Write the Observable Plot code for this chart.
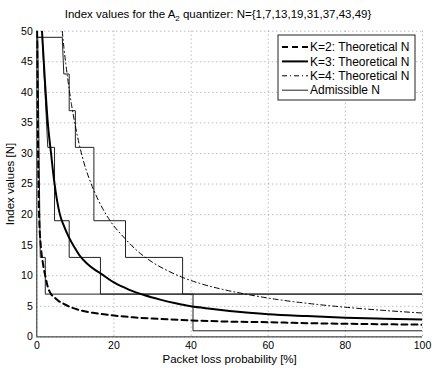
<!DOCTYPE html>
<html>
<head>
<meta charset="utf-8">
<script src="https://cdn.jsdelivr.net/npm/d3@7"></script>
<script src="https://cdn.jsdelivr.net/npm/@observablehq/plot@0.6"></script>
<style>
  html, body { margin: 0; padding: 0; background: white; }
</style>
</head>
<body>
<div id="chart"></div>
<script>
// ---- data ----
const xTicks = [0, 20, 40, 60, 80, 100];
const yTicks = [0, 5, 10, 15, 20, 25, 30, 35, 40, 45, 50];

// K=2 theoretical N
const pK2 = [0.08,0.15,0.25,0.35,0.5,0.7,0.9,1.2,1.5,1.8,2.2,2.8,3.6,4.5,5.6,7,9,11,13,15,20,25,30,40,50,60,70,80,90,100];
const nK2 = [50,44,36,29,22.5,18,16,13.8,12.4,11.2,10,8.3,7.1,6.5,5.9,5.4,4.8,4.4,4.1,3.9,3.5,3.2,3.0,2.7,2.5,2.4,2.25,2.15,2.07,2.0];
// K=3 theoretical N
const pK3 = [1.35,2,2.85,3.7,4.5,5.2,6,7,8.4,10,11,13,15,16.5,20,24,28,32,36,40,45,50,55,60,70,80,90,100];
const nK3 = [50,43,35,30,25.5,22.5,20,18.2,16.2,14.4,13.4,12,11,10.4,8.9,7.7,6.8,6.1,5.5,5.0,4.6,4.25,3.95,3.7,3.4,3.15,2.98,2.85];
// K=4 theoretical N
const pK4 = [6.6,7,8,9,10,11,12.7,14,16,19,23,26,30,34,37.9,42,48,55,62,70,80,90,100];
const nK4 = [50,47.5,42.3,38,34.5,31.5,27.5,25.2,22.3,19,16,14.1,12.2,10.8,9.7,8.8,7.8,6.9,6.15,5.5,4.85,4.33,3.9];

// Admissible N (step functions)
const pS2 = [0,0.25,0.9,2.2,2.2,100];
const nS2 = [49,49,13,13,7,7];
const pS3 = [0,1.4,2.85,4.6,4.6,8.4,8.4,16.5,16.5,40.5,40.5,100];
const nS3 = [49,49,31,31,19,19,13,13,7,7,1,1];
const pS4 = [0,6.6,7.0,8.4,8.4,10,10,14.8,14.8,23,23,37.8,37.8,100];
const nS4 = [49,49,43,43,37,37,31,31,19,19,13,13,7,7];

const legendLabels = ["K=2: Theoretical N", "K=3: Theoretical N", "K=4: Theoretical N", "Admissible N"];
const titleMain = "Index values for the A";
const titleSub = "2";
const titleRest = " quantizer: N={1,7,13,19,31,37,43,49}";
const xLabel = "Packet loss probability [%]";
const yLabel = "Index values [N]";

// ---- build ----
const zip = (ps, ns) => ps.map((p, i) => ({p, n: ns[i]}));
const k2 = zip(pK2, nK2), k3 = zip(pK3, nK3), k4 = zip(pK4, nK4);
const s2 = zip(pS2, nS2), s3 = zip(pS3, nS3), s4 = zip(pS4, nS4);

const FONT = "'Liberation Sans', Arial, Helvetica, sans-serif";

const styles = [
  {stroke: "black", strokeWidth: 2, strokeDasharray: "6,4"},
  {stroke: "black", strokeWidth: 2, strokeDasharray: null},
  {stroke: "black", strokeWidth: 1, strokeDasharray: "5,3,1,3"},
  {stroke: "#222", strokeWidth: 1, strokeDasharray: null}
];

const chart = Plot.plot({
  width: 436,
  height: 368,
  marginLeft: 36.3,
  marginRight: 14,
  marginTop: 30.7,
  marginBottom: 31.6,
  style: {fontFamily: FONT, fontSize: "10.5px", color: "black", background: "white", overflow: "visible"},
  x: {domain: [0, 100], ticks: xTicks, tickSize: 0, tickPadding: 5, label: null},
  y: {domain: [0, 50], ticks: yTicks, tickSize: 0, tickPadding: 4, label: null},
  marks: [
    Plot.gridX(xTicks, {stroke: "#888", strokeOpacity: 1, strokeWidth: 0.8, strokeDasharray: "1,3"}),
    Plot.gridY(yTicks, {stroke: "#888", strokeOpacity: 1, strokeWidth: 0.8, strokeDasharray: "1,3"}),
    Plot.ruleX([0], {stroke: "#222"}),
    Plot.ruleY([0], {stroke: "#222"}),
    Plot.line(s2, {x: "p", y: "n", ...styles[3], clip: true}),
    Plot.line(s3, {x: "p", y: "n", ...styles[3], clip: true}),
    Plot.line(s4, {x: "p", y: "n", ...styles[3], clip: true}),
    Plot.line(k2, {x: "p", y: "n", curve: "monotone-x", ...styles[0], clip: true}),
    Plot.line(k3, {x: "p", y: "n", curve: "monotone-x", ...styles[1], clip: true}),
    Plot.line(k4, {x: "p", y: "n", curve: "monotone-x", ...styles[2], clip: true}),
    Plot.text([xLabel], {frameAnchor: "bottom", lineAnchor: "middle", textAnchor: "middle", dy: 22, fontSize: 11.5, fill: "black"}),
    Plot.text([yLabel], {frameAnchor: "left", lineAnchor: "middle", textAnchor: "middle", dx: -26, rotate: -90, fontSize: 11.5, fill: "black"})
  ]
});

document.getElementById("chart").appendChild(chart);

const svg = d3.select(chart);

// title with subscript
const t = svg.append("text")
  .attr("x", 218).attr("y", 18)
  .attr("text-anchor", "middle")
  .attr("font-family", FONT)
  .attr("font-size", 11.5)
  .attr("fill", "black");
t.append("tspan").text(titleMain);
t.append("tspan").attr("dy", 3).attr("font-size", 8).text(titleSub);
t.append("tspan").attr("dy", -3).text(titleRest);

// legend
const lg = svg.append("g");
lg.append("rect")
  .attr("x", 278).attr("y", 35).attr("width", 137).attr("height", 65)
  .attr("fill", "white").attr("stroke", "#222").attr("stroke-width", 1);
legendLabels.forEach((lab, i) => {
  const yy = 47 + i * 14.4;
  const st = styles[i];
  const ln = lg.append("line")
    .attr("x1", 282).attr("x2", 308).attr("y1", yy).attr("y2", yy)
    .attr("stroke", st.stroke).attr("stroke-width", st.strokeWidth);
  if (st.strokeDasharray) ln.attr("stroke-dasharray", st.strokeDasharray);
  lg.append("text")
    .attr("x", 310).attr("y", yy).attr("dy", "0.35em")
    .attr("text-anchor", "start")
    .attr("font-family", FONT).attr("font-size", 12)
    .attr("fill", "black")
    .text(lab);
});
</script>
</body>
</html>
